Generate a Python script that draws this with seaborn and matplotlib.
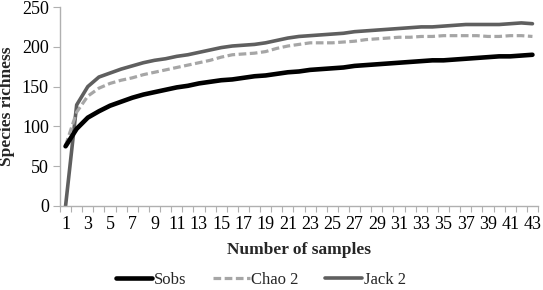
import numpy as np
import pandas as pd
import seaborn as sns
import matplotlib
matplotlib.use("Agg")
import matplotlib.pyplot as plt

samples = list(range(1, 44))
sobs = [75, 97, 111, 119, 126, 131, 136, 140, 143, 146, 149, 151, 154, 156, 158, 159, 161, 163, 164, 166,
        168, 169, 171, 172, 173, 174, 176, 177, 178, 179, 180, 181, 182, 183, 183, 184, 185, 186, 187, 188,
        188, 189, 190]
chao2 = [76, 118, 138, 148, 154, 158, 161, 165, 168, 171, 174, 177, 180, 183, 187, 190, 191, 192, 194, 198,
         201, 203, 205, 205, 205, 206, 207, 209, 210, 211, 212, 212, 213, 213, 214, 214, 214, 214, 213, 213,
         214, 214, 213]
jack2 = [0, 127, 150, 162, 167, 172, 176, 180, 183, 185, 188, 190, 193, 196, 199, 201, 202, 203, 205, 208,
         211, 213, 214, 215, 216, 217, 219, 220, 221, 222, 223, 224, 225, 225, 226, 227, 228, 228, 228, 228,
         229, 230, 229]
series_names = ["Sobs", "Chao 2", "Jack 2"]
x_labels = [str(i) for i in range(1, 44, 2)]
y_ticks = [0, 50, 100, 150, 200, 250]

df = pd.DataFrame({
    "Number of samples": samples * 3,
    "Species richness": sobs + chao2 + jack2,
    "Series": [series_names[0]] * 43 + [series_names[1]] * 43 + [series_names[2]] * 43,
})

sns.set_theme(style="white")
plt.rcParams["font.family"] = ["Liberation Serif", "DejaVu Serif"]

fig = plt.figure(figsize=(5.43, 2.90), dpi=100)
ax = fig.add_axes([60 / 543, 1 - 206 / 290, 478 / 543, 199 / 290])

palette = {"Sobs": "#000000", "Chao 2": "#a6a6a6", "Jack 2": "#5f5f5f"}
widths = {"Sobs": 3.3, "Chao 2": 2.3, "Jack 2": 2.6}
dashes = {"Sobs": "", "Chao 2": (2.4, 1.1), "Jack 2": ""}

for name in ["Jack 2", "Chao 2", "Sobs"]:
    sub = df[df["Series"] == name]
    sns.lineplot(data=sub, x="Number of samples", y="Species richness", ax=ax,
                 color=palette[name], linewidth=widths[name], label=name,
                 solid_capstyle="round", dash_capstyle="butt")
    line = ax.lines[-1]
    if dashes[name]:
        line.set_dashes(dashes[name])

ax.set_xlim(0.5, 43.5)
ax.set_ylim(0, 250)
ax.set_yticks(y_ticks)
ax.set_xticks(list(range(1, 44, 2)))
ax.set_xticklabels(x_labels)
ax.set_xticks(np.arange(0.5, 44, 1.0), minor=True)

for s in ["top", "right"]:
    ax.spines[s].set_visible(False)
for s in ["left", "bottom"]:
    ax.spines[s].set_color("#b0b0b0")
    ax.spines[s].set_linewidth(1.0)

fs = 13
ax.tick_params(axis="x", which="major", length=0, pad=7, labelsize=fs, colors="#000000")
ax.tick_params(axis="x", which="minor", length=4, width=0.8, color="#b0b0b0", direction="out", bottom=True)
ax.tick_params(axis="y", which="major", length=5, width=0.8, color="#b0b0b0", direction="out",
               left=True, labelsize=fs, pad=3)
for lab in ax.get_xticklabels() + ax.get_yticklabels():
    lab.set_color("#000000")

ax.set_xlabel("Number of samples", fontsize=12.5, fontweight="bold", labelpad=7)
ax.set_ylabel("Species richness", fontsize=12.5, fontweight="bold", labelpad=5)

handles, labels = ax.get_legend_handles_labels()
order = [labels.index(n) for n in series_names]
ax.legend([handles[i] for i in order], [labels[i] for i in order],
          loc="center", bbox_to_anchor=(0.48, 1 - 280 / 290), bbox_transform=fig.transFigure,
          ncol=3, frameon=False, fontsize=12, handlelength=2.2, handletextpad=0.1,
          columnspacing=1.6, borderaxespad=0)

fig.savefig("out.png", dpi=100)
